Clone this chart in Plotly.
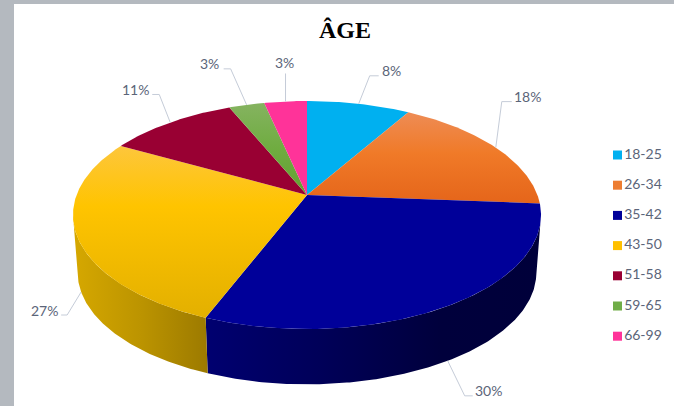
import numpy as np
import plotly.graph_objects as go

# ---- data ----
categories = ["18-25", "26-34", "35-42", "43-50", "51-58", "59-65", "66-99"]
shares = [8.45, 17.75, 29.8, 27.0, 10.6, 2.91, 3.49]

# ---- styles ----
legend_colors = ["#00B0F0", "#ED7D31", "#000099", "#FFC000", "#990033", "#70AD47", "#FF3399"]
top_scales = [
    [[0, "#00B0F0"], [1, "#00B0F0"]],
    [[0, "#EE8C55"], [0.45, "#F07A28"], [1, "#E5651A"]],
    [[0, "#000099"], [1, "#000099"]],
    [[0, "#FDC63C"], [0.35, "#FFC400"], [1, "#E3B000"]],
    [[0, "#990033"], [1, "#990033"]],
    [[0, "#85B360"], [0.5, "#6FAC40"], [1, "#63A032"]],
    [[0, "#FF3399"], [1, "#FF3399"]],
]
wall_scales = {
    2: [[0, "#000070"], [0.35, "#000058"], [0.7, "#00003C"], [1, "#00003A"]],
    3: [[0, "#D6A800"], [0.5, "#BC9400"], [1, "#9C7A00"]],
}
# leader style: elbow dx, elbow dy, tail dx, text anchor, text shift
leaders = [
    (11, -28, 9, "left", 1),
    (6, -46, 10, "left", 0),
    (17, 35, 8, "left", 0),
    (-14, 23, -6, "right", -1),
    (-11, -28, -7, "right", -1),
    (-16, -36, -7, "right", -3),
    (0, -28, 0, "center", -1),
]
LABEL_COLOR = "#5B6579"
LEADER_COLOR = "#C5CCD8"
FONT = "Lato"
LEGEND_X, LEGEND_Y, LEGEND_STEP = 617.5, 155.0, 30.2

# ---- pie projection (perspective view of a disc) ----
CX, CY = 307.0, 195.0
A, B, K = 230.4, 110.5, 0.1754
DEPTH, BOTTOM_SCALE = 58.0, 0.98
# rim angles at which the wall meets the disc's silhouette
SIL = np.arccos(-K)


def project(theta, bottom=False):
    u, v = np.sin(theta), np.cos(theta)
    den = 1 + K * v
    x, y = A * u / den, -B * v / den
    if bottom:
        return CX + BOTTOM_SCALE * x, CY + DEPTH + BOTTOM_SCALE * y
    return CX + x, CY + y


def arc(t0, t1):
    n = max(int(abs(t1 - t0) / 0.01), 2)
    return np.linspace(t0, t1, n)


fractions = np.array(shares) / np.sum(shares)
edges = np.concatenate([[0], np.cumsum(fractions)]) * 2 * np.pi
fig = go.Figure()

# side walls (only the slices that face the viewer)
for i, scale in wall_scales.items():
    t0, t1 = max(edges[i], SIL), min(edges[i + 1], 2 * np.pi - SIL)
    t = arc(t0, t1)
    xt, yt = project(t)
    xb, yb = project(t[::-1], bottom=True)
    xs = np.concatenate([xt, xb, xt[:1]])
    ys = np.concatenate([yt, yb, yt[:1]])
    fig.add_trace(go.Scatter(
        x=xs, y=ys, mode="lines", fill="toself", line=dict(width=0),
        fillgradient=dict(type="horizontal", colorscale=scale,
                          start=float(xs.min()), stop=float(xs.max())),
        showlegend=False, hoverinfo="skip"))

# top faces
for i in range(len(shares)):
    t = arc(edges[i], edges[i + 1])
    xr, yr = project(t)
    xs = np.concatenate([[CX], xr, [CX]])
    ys = np.concatenate([[CY], yr, [CY]])
    fig.add_trace(go.Scatter(
        x=xs, y=ys, mode="lines", fill="toself", line=dict(width=0),
        fillgradient=dict(type="vertical", colorscale=top_scales[i],
                          start=float(ys.min()), stop=float(ys.max())),
        showlegend=False, hoverinfo="skip"))

# leader lines and percentage labels
annotations = []
for i, (dx, dy, tail, anchor, shift) in enumerate(leaders):
    mid = (edges[i] + edges[i + 1]) / 2
    x0, y0 = project(mid, bottom=np.cos(mid) < -0.2)
    ex, ey = x0 + dx, y0 + dy
    fx = ex + tail
    fig.add_trace(go.Scatter(
        x=[x0, ex, fx], y=[y0, ey, ey], mode="lines",
        line=dict(color=LEADER_COLOR, width=1),
        showlegend=False, hoverinfo="skip"))
    lift = 11 if anchor == "center" else 5
    annotations.append(dict(
        x=fx + shift, y=ey - lift, xref="x", yref="y", showarrow=False,
        text=f"{round(shares[i])}%", xanchor=anchor, yanchor="middle",
        font=dict(family=FONT, size=14, color=LABEL_COLOR)))

# legend
fig.add_trace(go.Scatter(
    x=[LEGEND_X] * len(categories),
    y=[LEGEND_Y + LEGEND_STEP * i for i in range(len(categories))],
    mode="markers+text", text=categories, textposition="middle right",
    textfont=dict(family=FONT, size=14, color=LABEL_COLOR),
    marker=dict(symbol="square", size=9, color=legend_colors),
    showlegend=False, hoverinfo="skip", cliponaxis=False))

annotations.append(dict(
    x=345, y=30, xref="x", yref="y", showarrow=False, text="<b>ÂGE</b>",
    font=dict(family="Liberation Serif", size=24, color="#000000")))

fig.update_layout(
    width=674, height=406, autosize=False,
    margin=dict(l=14, r=0, t=4, b=0),
    paper_bgcolor="#B4B9BF", plot_bgcolor="#FFFFFF",
    xaxis=dict(range=[14, 674], visible=False, fixedrange=True),
    yaxis=dict(range=[406, 4], visible=False, fixedrange=True),
    showlegend=False,
    annotations=annotations,
)
fig.write_html("out.html", config={"displayModeBar": False},
               post_script="document.body.style.margin='0';document.documentElement.style.overflow='hidden';")
